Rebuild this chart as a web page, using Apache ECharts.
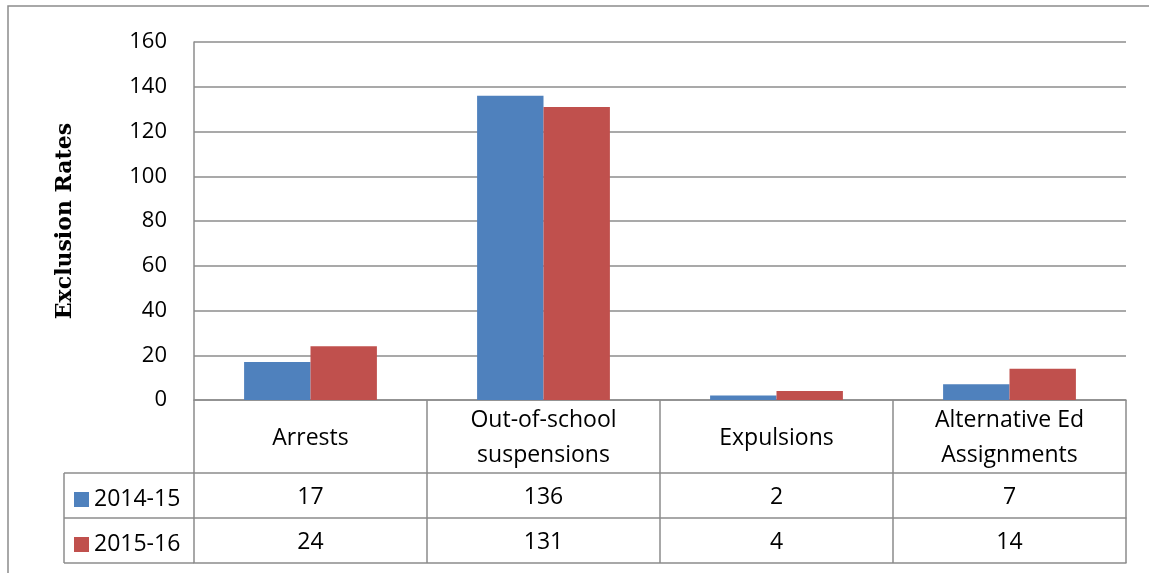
<!DOCTYPE html>
<html>
<head>
<meta charset="utf-8">
<script src="https://cdn.jsdelivr.net/npm/echarts@6/dist/echarts.min.js"></script>
<style>
  html, body { margin: 0; padding: 0; background: #fff; }
  #chart { width: 1149px; height: 573px; }
</style>
</head>
<body>
<div id="chart"></div>
<script>
const categories = ['Arrests', 'Out-of-school\nsuspensions', 'Expulsions', 'Alternative Ed\nAssignments'];
const seriesNames = ['2014-15', '2015-16'];
const values1415 = [17, 136, 2, 7];
const values1516 = [24, 131, 4, 14];
const yTicks = { min: 0, max: 160, interval: 20 };

document.addEventListener('DOMContentLoaded', () => {
    const chart = echarts.init(document.getElementById('chart'));
    const gridColor = '#8c8c8c';
    const font = 'Open Sans';

    // plot area + table rows (pixels)
    const G = { left: 194, top: 42, right: 23, bottom: 173 };
    const zeroY = 573 - G.bottom;
    const rowTop = [473, 518, 563];
    const legendLeft = 64;

    const rowAxis = (data, offset, showLabel) => ({
        type: 'category',
        data: data,
        position: 'bottom',
        offset: offset,
        axisLine: { show: true, lineStyle: { color: gridColor, width: 1.5 } },
        axisTick: { show: false },
        axisLabel: {
            show: showLabel, color: '#000', fontFamily: font, fontSize: 23,
            verticalAlign: 'middle', margin: 24, interval: 0
        }
    });

    const legendRow = (name, i) => ({
        orient: 'vertical',
        left: 74,
        top: rowTop[i] + 15,
        padding: 0,
        itemWidth: 15,
        itemHeight: 15,
        icon: 'rect',
        data: [name],
        textStyle: { color: '#000', fontFamily: font, fontSize: 23 }
    });

    const option = {
        animation: false,
        grid: G,
        legend: [legendRow(seriesNames[0], 0), legendRow(seriesNames[1], 1)],
        xAxis: [
            {
                type: 'category',
                data: categories,
                axisLine: { show: true, lineStyle: { color: gridColor, width: 1.5 } },
                axisTick: { show: true, length: rowTop[2] - zeroY, lineStyle: { color: gridColor, width: 1.5 } },
                axisLabel: {
                    color: '#000', fontFamily: font, fontSize: 23, lineHeight: 35,
                    verticalAlign: 'middle', margin: 38, interval: 0
                }
            },
            rowAxis(values1415.map(String), rowTop[0] - zeroY, true),
            rowAxis(values1516.map(String), rowTop[1] - zeroY, true),
            rowAxis(values1516.map(String), rowTop[2] - zeroY, false)
        ],
        yAxis: {
            type: 'value',
            min: yTicks.min,
            max: yTicks.max,
            interval: yTicks.interval,
            name: 'Exclusion Rates',
            nameLocation: 'middle',
            nameGap: 118,
            nameTextStyle: { color: '#000', fontFamily: 'DejaVu Serif', fontWeight: 'bold', fontSize: 22 },
            axisLine: { show: true, lineStyle: { color: gridColor, width: 1.5 } },
            axisTick: { show: false },
            axisLabel: { color: '#000', fontFamily: font, fontSize: 22, margin: 27 },
            splitLine: { lineStyle: { color: gridColor, width: 1.5 } }
        },
        series: [
            {
                name: seriesNames[0], type: 'bar', data: values1415,
                barGap: '0%', barCategoryGap: '43%',
                itemStyle: { color: '#4F81BD' }
            },
            {
                name: seriesNames[1], type: 'bar', data: values1516,
                barGap: '0%', barCategoryGap: '43%',
                itemStyle: { color: '#C0504D' }
            }
        ],
        graphic: [
            // outer chart border
            { type: 'rect', shape: { x: 8, y: 6, width: 1170, height: 600 }, style: { fill: null, stroke: gridColor, lineWidth: 1.5 } },
            // legend column of the data table
            { type: 'line', shape: { x1: legendLeft, y1: rowTop[0], x2: G.left, y2: rowTop[0] }, style: { stroke: gridColor, lineWidth: 1.5 } },
            { type: 'line', shape: { x1: legendLeft, y1: rowTop[1], x2: G.left, y2: rowTop[1] }, style: { stroke: gridColor, lineWidth: 1.5 } },
            { type: 'line', shape: { x1: legendLeft, y1: rowTop[2], x2: G.left, y2: rowTop[2] }, style: { stroke: gridColor, lineWidth: 1.5 } },
            { type: 'line', shape: { x1: legendLeft, y1: rowTop[0], x2: legendLeft, y2: rowTop[2] }, style: { stroke: gridColor, lineWidth: 1.5 } }
        ]
    };
    chart.setOption(option);

    window.addEventListener('resize', () => chart.resize());
});
</script>
</body>
</html>
